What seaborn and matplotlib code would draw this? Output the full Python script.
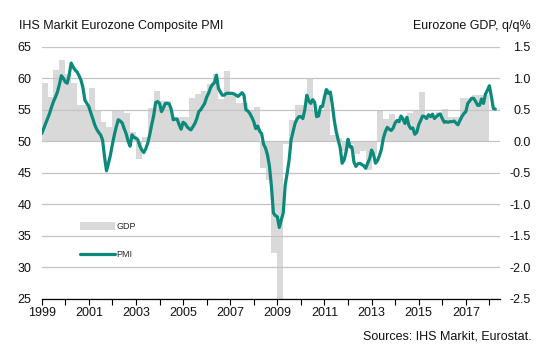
import matplotlib
matplotlib.use("Agg")
import matplotlib.pyplot as plt
import seaborn as sns
import pandas as pd
from matplotlib.patches import Patch
from matplotlib.lines import Line2D

# ---------------- data ----------------
pmi_monthly = [
    # 1999
    51.2, 52.0, 52.8, 53.6, 54.4, 55.4, 56.3, 57.0, 57.8, 59.0, 60.4, 60.0,
    # 2000
    59.4, 59.2, 60.5, 62.4, 61.8, 61.3, 61.0, 60.4, 59.7, 58.5, 56.5, 56.0,
    # 2001
    55.5, 54.5, 53.6, 52.6, 51.9, 51.4, 51.0, 50.2, 47.5, 45.3, 46.5, 47.8,
    # 2002
    49.5, 51.0, 52.3, 53.4, 53.2, 52.9, 52.0, 51.2, 50.0, 49.2, 51.0, 50.6,
    # 2003
    50.5, 50.2, 49.2, 48.6, 48.2, 48.8, 49.7, 51.0, 52.6, 54.0, 56.1, 56.3,
    # 2004
    56.0, 54.7, 55.3, 56.0, 56.0, 55.9, 55.0, 53.4, 53.5, 53.5, 52.6, 51.9,
    # 2005
    53.0, 52.8, 52.3, 52.0, 51.8, 52.3, 52.8, 53.6, 54.7, 55.0, 55.5, 56.0,
    # 2006
    57.0, 57.6, 58.5, 59.0, 59.3, 60.5, 58.4, 57.8, 57.3, 57.3, 57.6, 57.6,
    # 2007
    57.6, 57.6, 57.5, 57.3, 57.1, 57.4, 57.7, 57.3, 55.0, 54.8, 54.4, 53.8,
    # 2008
    53.1, 52.0, 52.4, 51.6, 51.2, 49.5, 48.9, 47.8, 46.0, 42.8, 38.6, 38.2,
    # 2009
    38.0, 36.3, 37.5, 38.6, 43.0, 44.9, 47.0, 50.2, 51.5, 52.8, 53.5, 53.9,
    # 2010
    53.9, 53.6, 55.0, 57.3, 56.4, 56.0, 56.6, 56.2, 53.9, 54.0, 55.5, 55.5,
    # 2011
    57.0, 58.2, 57.6, 57.8, 55.8, 53.3, 51.5, 50.2, 49.0, 46.5, 47.0, 48.3,
    # 2012
    50.3, 49.1, 49.1, 46.7, 46.0, 46.4, 46.5, 46.3, 46.1, 45.7, 46.5, 47.2,
    # 2013
    48.6, 47.9, 46.5, 46.9, 47.7, 48.7, 50.5, 51.5, 52.2, 51.9, 51.7, 52.1,
    # 2014
    52.9, 53.3, 53.1, 54.0, 53.5, 52.8, 53.8, 52.5, 52.0, 52.1, 51.1, 51.4,
    # 2015
    52.6, 53.3, 54.0, 53.9, 53.6, 54.2, 53.9, 54.3, 53.6, 53.9, 54.2, 54.3,
    # 2016
    53.6, 53.0, 53.1, 53.0, 53.1, 53.1, 53.2, 52.9, 52.6, 53.3, 53.9, 54.4,
    # 2017
    54.7, 56.0, 56.4, 56.8, 56.8, 56.3, 55.7, 55.7, 56.7, 56.0, 57.5, 58.1,
    # 2018
    58.8, 57.1, 55.2, 55.1,
]

gdp_quarterly = [
    0.92, 0.70, 1.13, 1.29,    # 1999
    1.07, 0.92, 0.57, 0.57,    # 2000
    0.85, 0.48, 0.30, 0.23,    # 2001
    0.50, 0.50, 0.44, 0.15,    # 2002
    -0.28, 0.06, 0.53, 0.79,   # 2003
    0.64, 0.64, 0.38, 0.38,    # 2004
    0.39, 0.69, 0.75, 0.80,    # 2005
    0.91, 1.07, 0.67, 1.12,    # 2006
    0.75, 0.60, 0.60, 0.48,    # 2007
    0.55, -0.42, -0.61, -1.77, # 2008
    -2.90, -0.05, 0.33, 0.57,  # 2009
    0.57, 1.00, 0.50, 0.50,    # 2010
    0.83, 0.10, 0.05, -0.15,   # 2011
    -0.05, -0.20, -0.15, -0.45,# 2012
    -0.20, 0.48, 0.36, 0.43,   # 2013
    0.33, 0.38, 0.44, 0.50,    # 2014
    0.78, 0.39, 0.39, 0.47,    # 2015
    0.51, 0.39, 0.39, 0.69,    # 2016
    0.69, 0.74, 0.74, 0.73,    # 2017
]

year_labels = [str(y) for y in range(1999, 2018, 2)]
pmi_ticks = [25, 30, 35, 40, 45, 50, 55, 60, 65]
gdp_ticks = [-2.5, -2.0, -1.5, -1.0, -0.5, 0.0, 0.5, 1.0, 1.5]

# ---------------- frames ----------------
months = pd.date_range("1999-01-01", periods=len(pmi_monthly), freq="MS")
pmi_df = pd.DataFrame({"t": months.year + (months.month - 1) / 12.0,
                       "PMI": pmi_monthly})
quarters = pd.date_range("1999-01-01", periods=len(gdp_quarterly), freq="QS")
gdp_df = pd.DataFrame({"t": quarters.year + (quarters.month - 1) / 12.0,
                       "GDP": gdp_quarterly})

# ---------------- style ----------------
sns.set_theme(style="white")
plt.rcParams["font.family"] = ["Liberation Sans", "DejaVu Sans"]
plt.rcParams["axes.unicode_minus"] = False

TEAL = "#0b8a7c"
BAR = "#d9d9d9"
GRID = "#c3c3c3"
TXT = "#111111"

W, H = 542, 347
fig = plt.figure(figsize=(W / 100, H / 100), dpi=100)
fig.patch.set_facecolor("white")

x0, x1, ytop, ybot = 41.7, 500, 46.7, 298.7
ax = fig.add_axes([x0 / W, 1 - ybot / H, (x1 - x0) / W, (ybot - ytop) / H])
ax2 = ax.twinx()
ax.set_zorder(2)
ax2.set_zorder(1)
ax.patch.set_visible(False)

# GDP bars (right axis)
ax2.bar(gdp_df["t"], gdp_df["GDP"], width=0.25, align="edge",
        color=BAR, linewidth=0)
ax2.set_ylim(-2.5, 1.5)
ax2.set_yticks(gdp_ticks)
ax2.set_yticklabels([f"{v:.1f}" for v in gdp_ticks])
for lab in ax2.get_yticklabels():
    lab.set_horizontalalignment("right")
ax2.tick_params(axis="y", length=0, pad=22, labelsize=9, labelcolor=TXT)

# PMI line (left axis)
sns.lineplot(data=pmi_df, x="t", y="PMI", ax=ax, color=TEAL, lw=2.3,
             zorder=3, legend=False)
ax.set_ylim(25, 65)
ax.set_xlim(1999, 2018.45)
ax.set_yticks(pmi_ticks)
ax.set_yticklabels([str(v) for v in pmi_ticks])
ax.tick_params(axis="y", length=0, pad=7.5, labelsize=9, labelcolor=TXT)
ax.set_xlabel("")
ax.set_ylabel("")
ax2.set_ylabel("")

ax.grid(axis="y", color=GRID, lw=0.9)
ax.grid(axis="x", visible=False)
ax2.grid(False)
ax.set_axisbelow(True)

ax.set_xticks(range(1999, 2018, 2))
ax.set_xticklabels(year_labels)
ax.set_xticks(range(1999, 2019), minor=True)
ax.tick_params(axis="x", which="both", direction="out", length=4, width=0.8,
               color="black", bottom=True, labelsize=9, labelcolor=TXT, pad=2)

for a in (ax, ax2):
    for s in ("left", "right", "top"):
        a.spines[s].set_visible(False)
ax2.spines["bottom"].set_visible(False)
ax.spines["bottom"].set_color("black")
ax.spines["bottom"].set_linewidth(0.9)

# legend
handles = [Patch(facecolor=BAR, edgecolor="none", label="GDP"),
           Line2D([0], [0], color=TEAL, lw=2.3, label="PMI")]
fig.legend(handles=handles, loc="upper left",
           bbox_to_anchor=(80 / W, 1 - 222 / H), bbox_transform=fig.transFigure,
           frameon=False, fontsize=6.5, handlelength=3.9, handleheight=0.9,
           handletextpad=0.1, labelspacing=2.1, borderpad=0, borderaxespad=0)

# texts
fig.text(19 / W, 1 - 26 / H, "IHS Markit Eurozone Composite PMI",
         fontsize=9, color=TXT, va="center", ha="left")
fig.text(531 / W, 1 - 26 / H, "Eurozone GDP, q/q%",
         fontsize=9, color=TXT, va="center", ha="right")
fig.text(532 / W, 1 - 336.5 / H, "Sources: IHS Markit, Eurostat.",
         fontsize=9, color=TXT, va="center", ha="right")

fig.savefig("out.png", dpi=100)
